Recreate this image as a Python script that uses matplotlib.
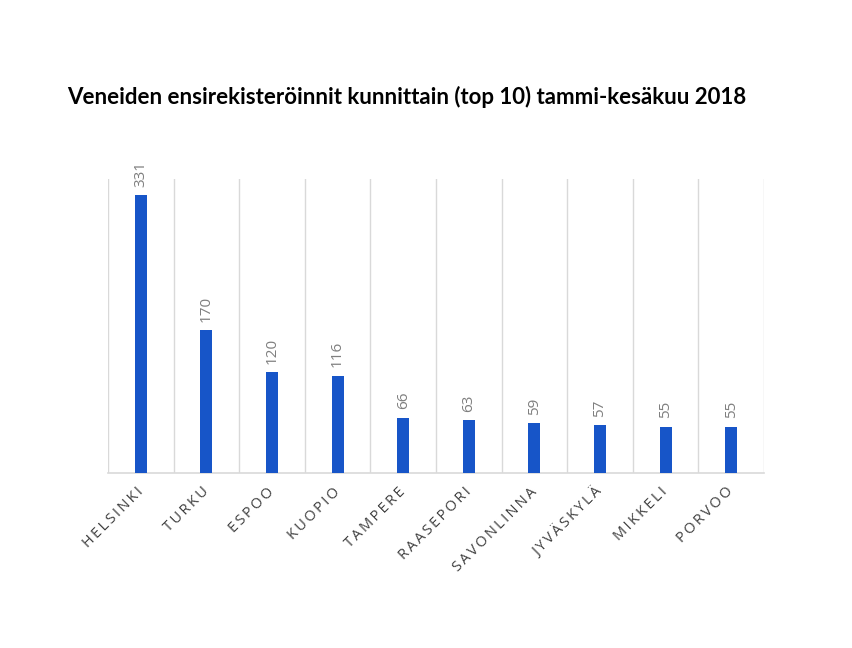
import matplotlib
matplotlib.use("Agg")
import matplotlib.pyplot as plt
import numpy as np

categories = ["HELSINKI", "TURKU", "ESPOO", "KUOPIO", "TAMPERE", "RAASEPORI",
              "SAVONLINNA", "JYVÄSKYLÄ", "MIKKELI", "PORVOO"]
values = [331, 170, 120, 116, 66, 63, 59, 57, 55, 55]
title = "Veneiden ensirekisteröinnit kunnittain (top 10) tammi-kesäkuu 2018"

fig = plt.figure(figsize=(8.53, 6.48), dpi=100)
ax = fig.add_axes([108/853, 1-473/648, (764-108)/853, (473-179)/648])

x = np.arange(len(categories))
ax.bar(x, values, width=0.185, color="#1755C8", zorder=3)
ax.set_xlim(-0.5, len(categories)-0.5)
ax.set_ylim(0, 350)

for b in np.arange(-0.5, len(categories)+0.5, 1):
    ax.axvline(b, color="#D9D9D9", lw=1.0, zorder=1)

for s in ["top", "right", "left"]:
    ax.spines[s].set_visible(False)
ax.spines["bottom"].set_color("#D9D9D9")
ax.spines["bottom"].set_linewidth(1.2)
ax.set_yticks([])
ax.tick_params(axis="x", length=0, pad=12)
ax.set_xticks(x)
spaced = ["\u2009".join(c) for c in categories]
ax.set_xticklabels(spaced, rotation=45, ha="right", va="center",
                   rotation_mode="anchor", color="#404040", fontsize=10.5,
                   fontweight="medium", family=["Open Sans", "DejaVu Sans"])

for xi, v in zip(x, values):
    ax.annotate(str(v), (xi, v), xytext=(0, 6), textcoords="offset points",
                rotation=90, ha="center", va="bottom", color="#7F7F7F",
                fontsize=11, family=["Open Sans", "DejaVu Sans"])

fig.text(407/853, 1-97/648, title, ha="center", va="center",
         fontsize=16, fontweight="bold", family=["Lato", "DejaVu Sans"])

fig.savefig("out.png", dpi=100, facecolor="white")
